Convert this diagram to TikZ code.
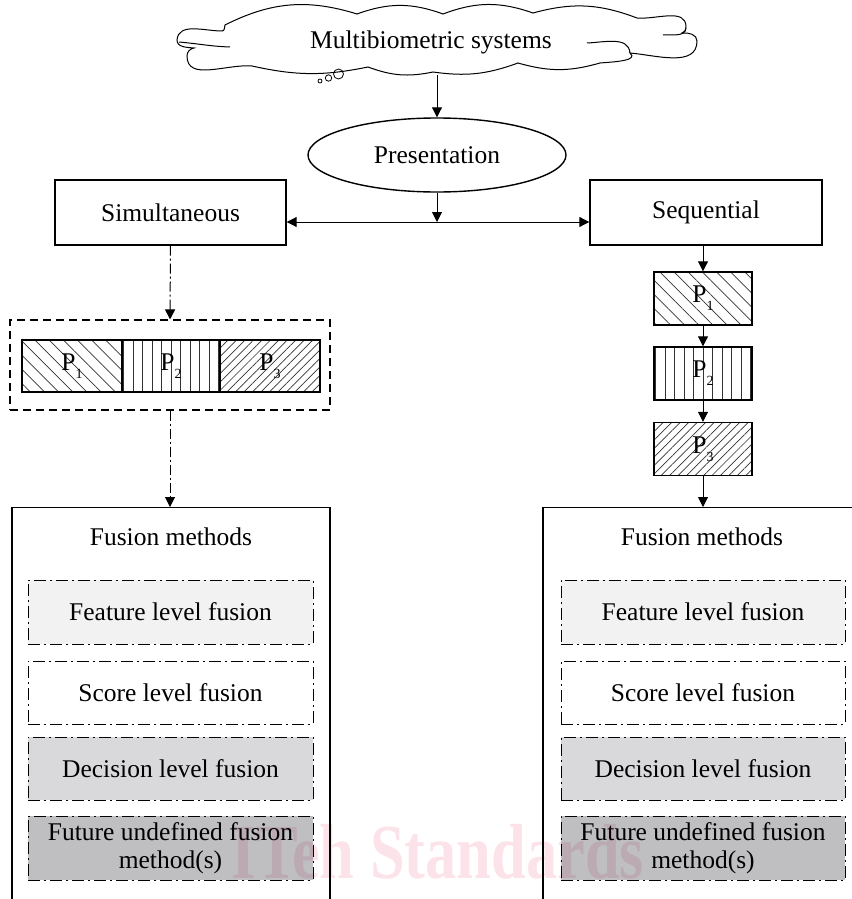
\documentclass[tikz,border=0pt]{standalone}
\usepackage{fontspec}
\setmainfont{Liberation Serif}
\usetikzlibrary{shapes.geometric,arrows.meta,patterns.meta}
\definecolor{fillA}{HTML}{F2F2F3}
\definecolor{fillC}{HTML}{D9D9DB}
\definecolor{fillD}{HTML}{BFBFC2}
\definecolor{wmark}{HTML}{FCE3EA}
\newcommand{\psub}[1]{P\raisebox{-8pt}{\fontsize{14}{14}\selectfont #1}}
\begin{document}
\begin{tikzpicture}[x=1pt,y=-1pt,
  every node/.style={font=\fontsize{25.5}{28}\selectfont, inner sep=0pt, align=center},
  box/.style={draw, line width=1.4pt, rectangle},
  pbox/.style={draw, line width=1.4pt, rectangle},
  cloudline/.style={line width=1pt},
  hatchA/.style={pattern={Lines[angle=-45,distance=10pt,line width=0.7pt]}, pattern color=black!80},
  hatchB/.style={pattern={Lines[angle=90,distance=9.5pt,line width=0.7pt]}, pattern color=black!80},
  hatchC/.style={pattern={Lines[angle=45,distance=6pt,line width=0.7pt]}, pattern color=black!80},
  fbox/.style={draw, line width=0.9pt, dash pattern=on 12pt off 4pt on 2pt off 4pt},
  arr/.style={line width=1pt, -{Triangle[length=10pt,width=10pt]}},
  darr/.style={arr, dash pattern=on 10pt off 3pt on 2pt off 3pt},
]
\useasboundingbox (0,0) rectangle (851,899);

% cloud outline
\draw[cloudline, fill=white]
  (225,25) to[bend left=22] (357,14) to[bend left=20] (443,14)
  to[bend left=20] (533,13) to[bend left=18] (637,18)
  to[out=-5,in=90] (686,27) to[out=-90,in=10] (682,33)
  to[out=5,in=90] (697,41) to[out=-90,in=-5] (630,53)
  to[out=-40,in=5] (600,63) to[bend left=16] (518,63)
  to[bend left=14] (433,72) to[bend left=16] (368,67) to[bend left=12] (252,66)
  to[out=175,in=-90] (187,56) to[out=90,in=-170] (194,48)
  to[out=175,in=-90] (177,40) to[out=85,in=180] (222,31) to[out=0,in=-100] (225,25) -- cycle;
\draw[cloudline] (179,42) to[out=-5,in=178] (230,47);
\draw[cloudline] (686,28) to[out=-95,in=5] (663,35);
\draw[cloudline] (587,43) to[out=2,in=95] (630,53);
\node (msys) at (431,42) {Multibiometric systems};
\coordinate (cloudbot) at (437,75);
\draw[line width=0.8pt] (320,81) circle (2);
\draw[line width=0.8pt] (328.5,78) circle (3.2);
\draw[line width=0.8pt] (338.5,74) circle (5);

% presentation
\node[ellipse, draw, line width=1.4pt, minimum width=258pt, minimum height=74pt] (pres) at (437,155) {Presentation};

% simultaneous / sequential
\node[box, minimum width=231pt, minimum height=65pt] (sim) at (170.5,212.5) {Simultaneous};
\node[box, minimum width=232pt, minimum height=65pt] (seq) at (706,212.5) {Sequential};

\coordinate (hub) at (437,222);
\draw[arr] (cloudbot) -- (pres.north);
\draw[arr] (pres.south) -- (hub);
\draw[line width=1pt, {Triangle[length=10pt,width=10pt]}-{Triangle[length=10pt,width=10pt]}] (hub -| sim.east) -- (hub -| seq.west);

% simultaneous group
\node[draw, line width=1.1pt, dash pattern=on 8pt off 5pt, minimum width=320pt, minimum height=90pt] (grp) at (170,365) {};
\node[pbox, hatchA, minimum width=100pt, minimum height=52pt] (lp1) at (72,366) {\psub{1}};
\node[pbox, hatchB, minimum width=98pt, minimum height=52pt] (lp2) at (171,366) {\psub{2}};
\node[pbox, hatchC, minimum width=100pt, minimum height=52pt] (lp3) at (270,366) {\psub{3}};

% sequential chain
\node[pbox, hatchA, minimum width=98pt, minimum height=53pt] (rp1) at (703,298.5) {\psub{1}};
\node[pbox, hatchB, minimum width=98pt, minimum height=53pt] (rp2) at (703,373.5) {\psub{2}};
\node[pbox, hatchC, minimum width=98pt, minimum height=53pt] (rp3) at (703,449) {\psub{3}};

% fusion boxes (open at the bottom, extend beyond page)
\node[box, minimum width=318pt, minimum height=440pt, anchor=north] (lfus) at (171,507) {};
\node[box, minimum width=318pt, minimum height=440pt, anchor=north] (rfus) at (702,507) {};

\draw[darr] (sim.south) -- (grp.north);
\draw[darr] (grp.south) -- (grp.south |- lfus.north);
\draw[arr] (rp1.north |- seq.south) -- (rp1.north);
\draw[arr] (rp1.south) -- (rp2.north);
\draw[arr] (rp2.south) -- (rp3.north);
\draw[arr] (rp3.south) -- (rp3.south |- rfus.north);

\node (lfm) at (171,537) {Fusion methods};
\node (rfm) at (702,537) {Fusion methods};

\node[fbox, fill=fillA, minimum width=285pt, minimum height=64pt] (lf1) at (170.5,612) {Feature level fusion};
\node[fbox, fill=white, minimum width=285pt, minimum height=63pt] (lf2) at (170.5,692.5) {Score level fusion};
\node[fbox, fill=fillC, minimum width=285pt, minimum height=63pt] (lf3) at (170.5,768.5) {Decision level fusion};
\node[fbox, fill=fillD, minimum width=285pt, minimum height=64pt] (lf4) at (170.5,848) {Future undefined fusion\\method(s)};

\node[fbox, fill=fillA, minimum width=284pt, minimum height=64pt] (rf1) at (703,612) {Feature level fusion};
\node[fbox, fill=white, minimum width=284pt, minimum height=63pt] (rf2) at (703,692.5) {Score level fusion};
\node[fbox, fill=fillC, minimum width=284pt, minimum height=63pt] (rf3) at (703,768.5) {Decision level fusion};
\node[fbox, fill=fillD, minimum width=284pt, minimum height=64pt] (rf4) at (703,848) {Future undefined fusion\\method(s)};

% watermark
\node[font=\fontsize{78}{78}\selectfont\bfseries, text=wmark, blend mode=multiply, anchor=base] (wm) at (438,878) {\scalebox{0.8}[1]{ITeh Standards}};
\end{tikzpicture}
\end{document}
